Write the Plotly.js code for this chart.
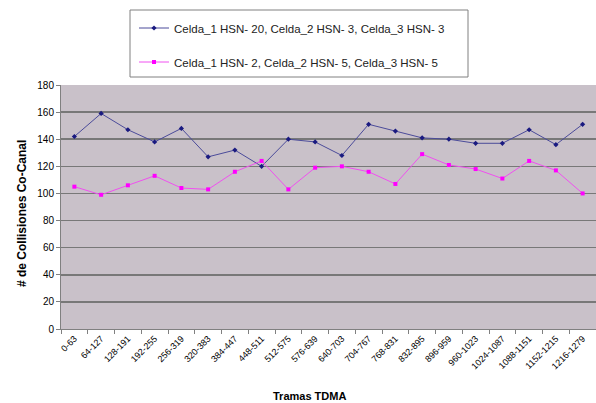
<!DOCTYPE html>
<html><head><meta charset="utf-8">
<script src="https://cdn.plot.ly/plotly-3.0.1.min.js"></script>
<style>html,body{margin:0;padding:0;background:#fff}</style>
</head><body><div id="chart" style="width:596px;height:403px"></div>
<script>
const categories = ["0-63","64-127","128-191","192-255","256-319","320-383","384-447","448-511","512-575","576-639","640-703","704-767","768-831","832-895","896-959","960-1023","1024-1087","1088-1151","1152-1215","1216-1279"];
const seriesA = [142,159,147,138,148,127,132,120,140,138,128,151,146,141,140,137,137,147,136,151];
const seriesB = [105,99,106,113,104,103,116,124,103,119,120,116,107,129,121,118,111,124,117,100];
const nameA = "Celda_1 HSN- 20, Celda_2 HSN- 3, Celda_3 HSN- 3";
const nameB = "Celda_1 HSN- 2, Celda_2 HSN- 5, Celda_3 HSN- 5";
const yTicks = [0,20,40,60,80,100,120,140,160,180];
const xTitle = "Tramas TDMA";
const yTitle = "# de Collisiones Co-Canal";

const data = [
  {x: categories, y: seriesA, name: nameA, type: "scatter", mode: "lines+markers",
   line: {color: "#4B4B9A", width: 1}, marker: {color: "#1A1A80", size: 4, symbol: "diamond"}, legendgroup: "a"},
  {x: categories, y: seriesB, name: nameB, type: "scatter", mode: "lines+markers",
   line: {color: "#F050F0", width: 1}, marker: {color: "#FF00FF", size: 4, symbol: "square"}, legendgroup: "b"}
];
const layout = {
  width: 596, height: 403,
  margin: {l: 61, r: 0, t: 85, b: 74, autoexpand: false},
  paper_bgcolor: "#ffffff", plot_bgcolor: "#C9C1C9",
  font: {family: "Liberation Sans, Arial, sans-serif", color: "#000", size: 10},
  showlegend: true,
  legend: {x: 134/596, xref: "container", xanchor: "left", y: 1 - 45/403, yanchor: "middle", yref: "container",
    bgcolor: "rgba(0,0,0,0)", borderwidth: 0, font: {size: 11.5, color: "#222"},
    tracegroupgap: 15, itemwidth: 30},
  shapes: [{type: "rect", xref: "paper", yref: "paper", x0: (130-61)/535, x1: (468-61)/535,
    y0: (329-77)/244, y1: (329-10)/244, line: {color: "#808080", width: 1}, fillcolor: "rgba(0,0,0,0)", layer: "below"}],
  annotations: [
    {text: "<b>" + yTitle + "</b>", xref: "paper", yref: "paper", x: (22-61)/535, y: (329-214)/244,
     xanchor: "center", yanchor: "middle", textangle: -90, showarrow: false, font: {size: 12}},
    {text: "<b>" + xTitle + "</b>", xref: "paper", yref: "paper", x: (309-61)/535, y: (329-396)/244,
     xanchor: "center", yanchor: "middle", showarrow: false, font: {size: 11}}
  ],
  xaxis: {type: "category", tickangle: -45, tickson: "boundaries", ticks: "outside", ticklen: 4,
    tickcolor: "#808080", showline: true, linecolor: "#808080", showgrid: false,
    tickfont: {size: 9}, range: [-0.5, 19.5]},
  yaxis: {range: [0, 180], tickvals: yTicks, ticks: "outside", ticklen: 4, tickcolor: "#808080",
    showline: true, linecolor: "#808080", gridcolor: "#787878", gridwidth: 1.5, zeroline: false,
    tickfont: {size: 10}}
};
Plotly.newPlot("chart", data, layout, {displayModeBar: false, staticPlot: true});
</script></body></html>
